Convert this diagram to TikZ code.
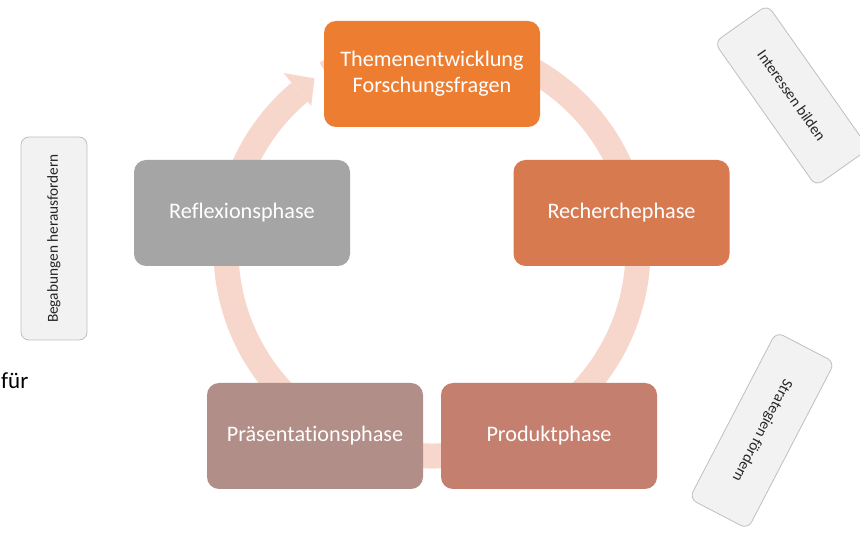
\documentclass[tikz,border=0pt]{standalone}
\usepackage{fontspec}
\setmainfont[Ligatures={NoCommon}]{Carlito}
\definecolor{ringc}{HTML}{F7D7CB}
\definecolor{c1}{HTML}{ED7D31}
\definecolor{c2}{HTML}{D87A50}
\definecolor{c3}{HTML}{C47F6E}
\definecolor{c4}{HTML}{B28E88}
\definecolor{c5}{HTML}{A5A5A5}
\definecolor{sidefill}{HTML}{F2F2F2}
\definecolor{sidedraw}{HTML}{BFBFBF}
\definecolor{sidetext}{HTML}{262626}
\begin{document}
\begin{tikzpicture}[x=1pt,y=1pt,
  phase/.style={rounded corners=12pt, minimum width=216pt, minimum height=106pt,
    inner sep=0pt, text=white, align=center,
    font=\fontsize{22.2}{26}\selectfont},
  sidebox/.style={draw=sidedraw, fill=sidefill, line width=0.8pt, rounded corners=8pt,
    inner sep=0pt, text=sidetext, font=\fontsize{15.3}{18}\selectfont},
  ring/.style={draw=ringc, line width=25pt}]
\clip (0,0) rectangle (860,533);
\fill[white] (0,0) rectangle (860,533);
\coordinate (C) at (432,283);
% ring with arrow
\draw[ring] ([shift={(121:206)}]C) arc[start angle=121, end angle=-230, radius=206];
\fill[ringc] ([shift={(130:231)}]C) -- ([shift={(124.4:208)}]C) -- ([shift={(130:188)}]C) -- cycle;
% phase boxes
\node[phase, fill=c1] (t) at (432,459) {Themenentwicklung\\Forschungsfragen};
\node[phase, fill=c2] (r) at (621.5,320) {Recherchephase};
\node[phase, fill=c3] (p) at (549,97) {Produktphase};
\node[phase, fill=c4] (s) at (315,97) {Präsentationsphase};
\node[phase, fill=c5] (f) at (242,320) {Reflexionsphase};
% side boxes
\node[sidebox, minimum width=203pt, minimum height=66pt, rotate=90] (b) at (54,294.5) {Begabungen herausfordern};
\node[sidebox, minimum width=176pt, minimum height=65pt, rotate=-54.8] (i) at (791.7,437.5) {Interessen bilden};
\node[sidebox, minimum width=188pt, minimum height=66pt, rotate=-117.5] (g) at (762,102.5) {Strategien fördern};
% stray text
\node[anchor=base west, inner sep=0pt, text=black, font=\fontsize{23}{27}\selectfont] (fu) at (1,144) {für};
\end{tikzpicture}
\end{document}
